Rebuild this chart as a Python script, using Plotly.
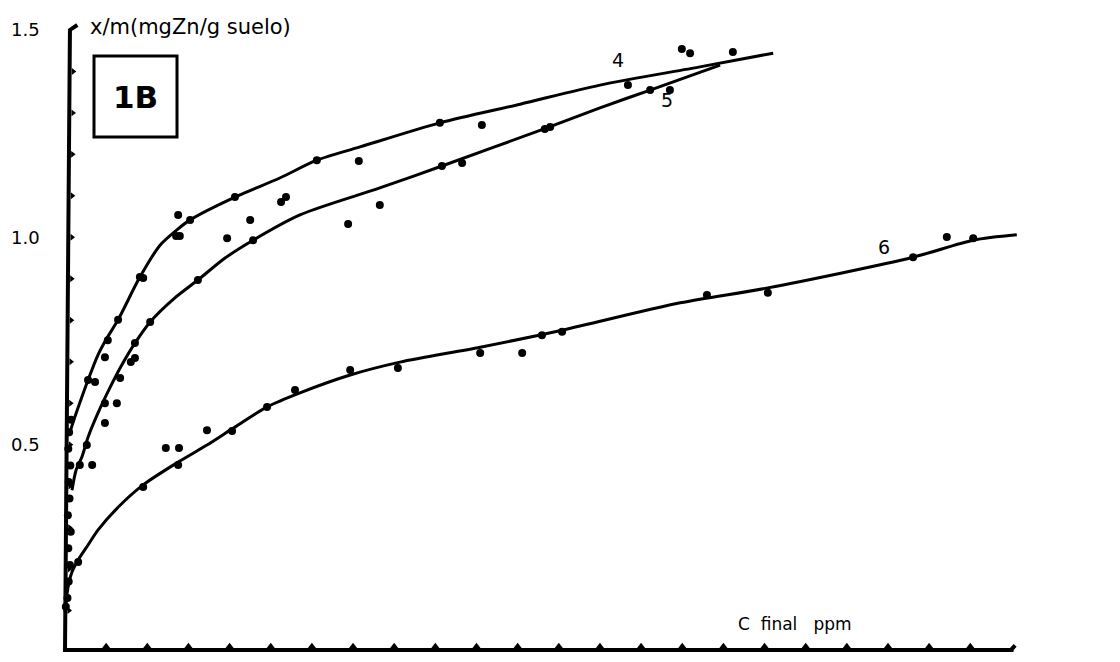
import plotly.graph_objects as go

W, H = 1120, 662

# ---------------- data: Zn adsorption isotherms ----------------
# C final (ppm) vs x/m (mg Zn / g suelo); drawn curves and measured points

# curve 4
c4_curve = [1.2, 2.4, 4.1, 5.6, 8.0, 10.2, 12.9, 18.2, 23.1, 27.2, 30.4, 41.3,
            52.2, 61.2, 71.7, 91.1, 110.6, 130.0, 154.3, 172.1]
q4_curve = [0.53, 0.567, 0.615, 0.656, 0.716, 0.757, 0.801, 0.904, 0.981, 1.018,
            1.042, 1.097, 1.143, 1.186, 1.218, 1.276, 1.321, 1.367, 1.411, 1.444]
c4_pts = [5.6, 7.3, 9.7, 10.4, 12.9, 18.2, 19.0, 27.0, 27.9, 27.5, 30.4, 41.3,
          61.2, 71.4, 91.1, 101.3, 136.8, 149.9, 151.9, 162.3]
q4_pts = [0.656, 0.651, 0.711, 0.752, 0.801, 0.904, 0.902, 1.003, 1.003, 1.054,
          1.042, 1.097, 1.186, 1.184, 1.276, 1.271, 1.367, 1.454, 1.444, 1.447]

# curve 5
c5_curve = [1.7, 2.7, 4.1, 5.6, 8.0, 10.9, 13.9, 17.0, 20.7, 26.7, 32.3, 38.9,
            45.7, 57.1, 76.5, 91.6, 117.1, 130.0, 142.2, 159.2]
q5_curve = [0.39, 0.439, 0.47, 0.518, 0.576, 0.637, 0.694, 0.745, 0.796, 0.854,
            0.897, 0.95, 0.993, 1.054, 1.119, 1.172, 1.264, 1.312, 1.355, 1.415]
c5_pts = [3.6, 6.6, 5.3, 9.7, 9.7, 12.6, 13.4, 16.0, 17.0, 17.0, 20.7, 32.3,
          39.4, 45.0, 45.7, 52.5, 53.7, 68.8, 76.5, 91.6, 96.5, 116.6, 117.9,
          142.2, 147.0]
q5_pts = [0.451, 0.451, 0.499, 0.552, 0.60, 0.60, 0.661, 0.699, 0.709, 0.745,
          0.796, 0.897, 0.998, 1.042, 0.993, 1.085, 1.097, 1.032, 1.078, 1.172,
          1.179, 1.261, 1.266, 1.355, 1.355]

# curve 6
c6_curve = [0.0, 0.7, 1.7, 3.2, 5.6, 8.0, 13.4, 19.0, 27.5, 34.5, 40.6, 49.1,
            57.1, 69.3, 81.4, 100.9, 120.8, 149.5, 170.8, 206.1, 220.7, 231.3]
q6_curve = [0.096, 0.154, 0.193, 0.222, 0.258, 0.294, 0.354, 0.403, 0.458, 0.499,
            0.538, 0.591, 0.625, 0.668, 0.699, 0.735, 0.776, 0.842, 0.878, 0.952,
            0.993, 1.006]
c6_pts = [0.2, 3.2, 19.0, 24.5, 27.7, 27.5, 34.5, 40.6, 49.1, 55.9, 69.3, 80.9,
          100.9, 111.1, 115.9, 120.8, 156.0, 170.8, 206.1, 214.3, 220.7]
q6_pts = [0.109, 0.217, 0.398, 0.492, 0.492, 0.451, 0.535, 0.533, 0.591, 0.632,
          0.68, 0.685, 0.721, 0.721, 0.764, 0.772, 0.861, 0.866, 0.952, 1.001,
          0.998]

# points at very low final concentration, crowded along the ordinate
c0_pts = [0.6, 0.9, 1.2, 0.8, 1.4, 0.7, 1.1, 0.9, 1.3, 0.8, 1.0, 1.5]
q0_pts = [0.13, 0.17, 0.21, 0.25, 0.29, 0.33, 0.37, 0.41, 0.45, 0.49, 0.53, 0.56]

# axes
x_ticks = [10 * i for i in range(1, 23)]
y_ticks = [round(0.1 * i, 1) for i in range(1, 15)]
x_end = 230.5
y_top = 1.5
y_labels = ["0.5", "1.0", "1.5"]
y_label_vals = [0.5, 1.0, 1.5]

curve_labels = ["4", "5", "6"]

# ---------------- figure ----------------
# pixel <-> data mapping of the drawing area (full canvas)
X0_PX, X_PER = 65.0, 4.115          # pixel of C=0, pixels per ppm
Y0_PX, Y_PER = 652.0, 414.7         # pixel of x/m=0, pixels per unit
x_range = [(0 - X0_PX) / X_PER, (W - X0_PX) / X_PER]
y_range = [(Y0_PX - H) / Y_PER, Y0_PX / Y_PER]


def px(x):
    return x / W


def py(y):
    return 1 - y / H


INK = "#000000"
FONT = "DejaVu Sans"
fig = go.Figure()

# hand-drawn style axes: slanted ordinate, abscissa with small peaked ticks
slant = 1.2 / y_top
fig.add_trace(go.Scatter(x=[0, x_end], y=[0.005, 0.005], mode="lines",
                         line=dict(color=INK, width=4), hoverinfo="skip"))
fig.add_trace(go.Scatter(x=[x_end - 0.6, x_end + 0.4], y=[0.005, 0.016], mode="lines",
                         line=dict(color=INK, width=4), hoverinfo="skip"))
fig.add_trace(go.Scatter(x=x_ticks, y=[0.014] * len(x_ticks), mode="markers",
                         marker=dict(symbol="triangle-up", size=7, color=INK),
                         hoverinfo="skip"))
fig.add_trace(go.Scatter(x=[0, slant * y_top, slant * y_top + 1.8],
                         y=[0.0, y_top, y_top + 0.012], mode="lines",
                         line=dict(color=INK, width=4), hoverinfo="skip"))
fig.add_trace(go.Scatter(x=[slant * v + 0.9 for v in y_ticks], y=y_ticks, mode="markers",
                         marker=dict(symbol="triangle-right", size=6, color=INK),
                         hoverinfo="skip"))

# isotherm curves
for cx, cy in [(c4_curve, q4_curve), (c5_curve, q5_curve), (c6_curve, q6_curve)]:
    fig.add_trace(go.Scatter(x=cx, y=cy, mode="lines",
                             line=dict(color=INK, width=3, shape="spline", smoothing=0.8),
                             hoverinfo="skip"))

# measured points
for cx, cy in [(c4_pts, q4_pts), (c5_pts, q5_pts), (c6_pts, q6_pts), (c0_pts, q0_pts)]:
    fig.add_trace(go.Scatter(x=cx, y=cy, mode="markers",
                             marker=dict(symbol="circle", size=8, color=INK),
                             hoverinfo="skip", cliponaxis=False))

annotations = []
# ordinate labels
for lab, v in zip(y_labels, y_label_vals):
    annotations.append(dict(x=(25 - X0_PX) / X_PER, y=v, xref="x", yref="y", text=lab,
                            showarrow=False, xanchor="center", yanchor="middle",
                            font=dict(family=FONT, size=18, color=INK)))
# ordinate title
annotations.append(dict(x=px(88), y=py(27), xref="paper", yref="paper",
                        text="x/m(mgZn/g suelo)", showarrow=False,
                        xanchor="left", yanchor="middle",
                        font=dict(family=FONT, size=21, color=INK)))
# abscissa title
annotations.append(dict(x=px(795), y=py(624), xref="paper", yref="paper",
                        text="C\u00a0\u00a0final\u00a0\u00a0\u00a0ppm", showarrow=False,
                        xanchor="center", yanchor="middle",
                        font=dict(family=FONT, size=17, color=INK)))
# panel tag
annotations.append(dict(x=px(135), y=py(97), xref="paper", yref="paper",
                        text="<b>1B</b>", showarrow=False,
                        xanchor="center", yanchor="middle",
                        font=dict(family=FONT, size=31, color=INK)))
# curve numbers
for lab, (lx, ly) in zip(curve_labels, [(618, 60), (667, 100), (884, 247)]):
    annotations.append(dict(x=px(lx), y=py(ly), xref="paper", yref="paper",
                            text=lab, showarrow=False, xanchor="center", yanchor="middle",
                            font=dict(family=FONT, size=19, color=INK)))

shapes = [dict(type="rect", xref="paper", yref="paper",
               x0=px(94), x1=px(177), y0=py(137), y1=py(56),
               line=dict(color=INK, width=3), fillcolor="rgba(0,0,0,0)")]

fig.update_layout(
    width=W, height=H, autosize=False,
    margin=dict(l=0, r=0, t=0, b=0),
    paper_bgcolor="white", plot_bgcolor="white",
    showlegend=False,
    xaxis=dict(range=x_range, visible=False, fixedrange=True),
    yaxis=dict(range=y_range, visible=False, fixedrange=True),
    annotations=annotations, shapes=shapes,
)

fig.write_html("out.html", config={"displayModeBar": False})
